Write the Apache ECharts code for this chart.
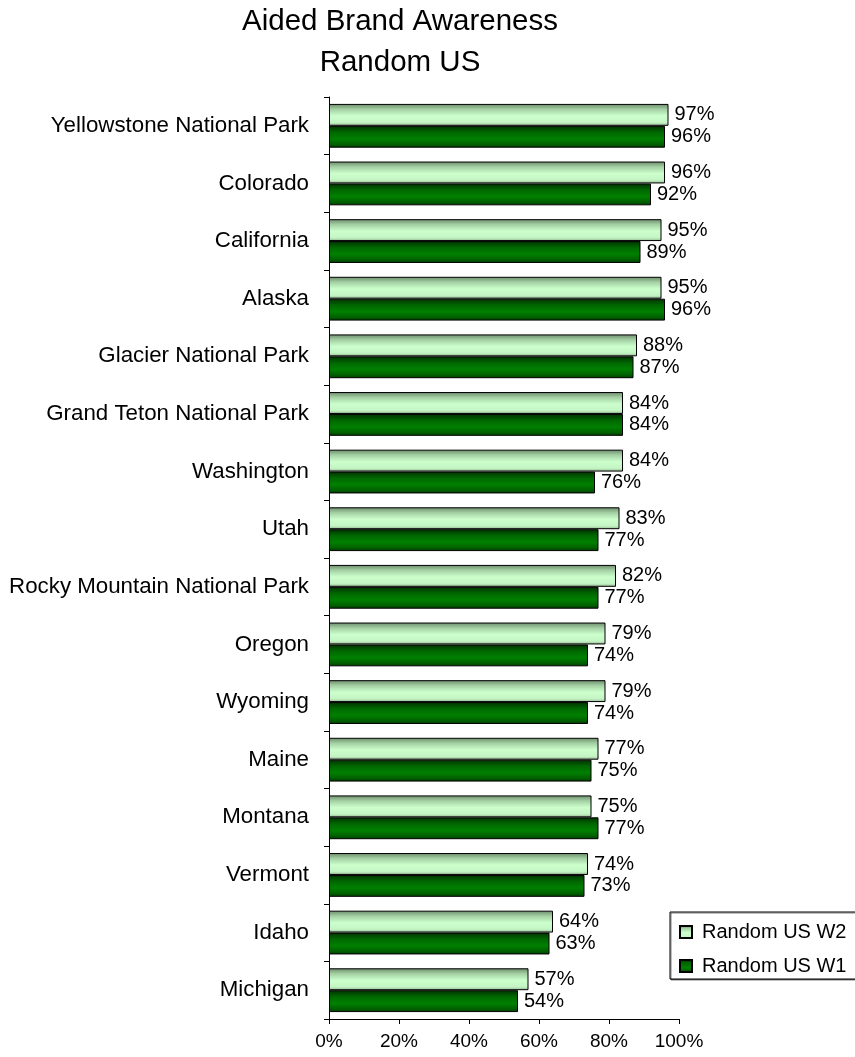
<!DOCTYPE html>
<html><head><meta charset="utf-8">
<script src="https://cdn.jsdelivr.net/npm/echarts@6/dist/echarts.min.js"></script>
<style>html,body{margin:0;padding:0;background:#fff}#c{width:855px;height:1057px}</style>
</head><body><div id="c"></div>
<script>
const titleLines = ['Aided Brand Awareness', 'Random US'];
const categories = ['Yellowstone National Park','Colorado','California','Alaska','Glacier National Park','Grand Teton National Park','Washington','Utah','Rocky Mountain National Park','Oregon','Wyoming','Maine','Montana','Vermont','Idaho','Michigan'];
const seriesNames = ['Random US W2','Random US W1'];
const w2 = [97,96,95,95,88,84,84,83,82,79,79,77,75,74,64,57];
const w1 = [96,92,89,96,87,84,76,77,77,74,74,75,77,73,63,54];
const xTicks = [0,20,40,60,80,100];

const FONT = '"Liberation Sans", Arial, sans-serif';
const lightGrad = new echarts.graphic.LinearGradient(0,0,0,1,[
  {offset:0,color:'#6a8a6a'},{offset:0.25,color:'#a4d0a4'},{offset:0.55,color:'#ccffcc'},{offset:0.85,color:'#c4f4c4'},{offset:1,color:'#94b494'}]);
const darkGrad = new echarts.graphic.LinearGradient(0,0,0,1,[
  {offset:0,color:'#003000'},{offset:0.3,color:'#006800'},{offset:0.6,color:'#008000'},{offset:0.85,color:'#006000'},{offset:1,color:'#003a00'}]);

const chart = echarts.init(document.getElementById('c'), null, {renderer:'canvas'});
chart.setOption({
  animation:false,
  backgroundColor:'#fff',
  title:{text:titleLines.join('\n'), left:395, textAlign:'center', top:-4,
    textStyle:{fontFamily:FONT,fontSize:29.5,fontWeight:'normal',color:'#000',lineHeight:41}},
  legend:{orient:'vertical', left:670, top:912, data:seriesNames, icon:'rect',
    padding:[10,20,3,9], itemGap:14, itemWidth:12, itemHeight:12,
    borderColor:'#000', borderWidth:1, backgroundColor:'#fff',
    shadowColor:'rgba(0,0,0,0.5)', shadowOffsetX:1, shadowOffsetY:1,
    textStyle:{fontFamily:FONT,fontSize:20,color:'#000',padding:[0,0,0,5]}},
  grid:{left:329, right:176, top:97, bottom:38, containLabel:false},
  xAxis:{type:'value', min:0, max:100, interval:20,
    axisLine:{show:true,lineStyle:{color:'#000',width:1}},
    axisTick:{show:true,length:5,lineStyle:{color:'#000'}},
    splitLine:{show:false},
    axisLabel:{fontFamily:FONT,fontSize:19,color:'#000',margin:13,
      formatter:v=>xTicks.includes(v)?v+'%':''}},
  yAxis:{type:'category', data:categories, inverse:true,
    axisLine:{show:true,lineStyle:{color:'#000',width:1}},
    axisTick:{show:true,length:5,lineStyle:{color:'#000'}},
    axisLabel:{fontFamily:FONT,fontSize:22.3,color:'#000',margin:20}},
  series:[
    {name:seriesNames[0], type:'bar', data:w2, barGap:'0%', barCategoryGap:'24%',
     itemStyle:{color:lightGrad,borderColor:'#000',borderWidth:1},
     label:{show:true,position:'right',distance:6,formatter:'{c}%',fontFamily:FONT,fontSize:20,color:'#000'}},
    {name:seriesNames[1], type:'bar', data:w1, barGap:'0%', barCategoryGap:'24%',
     itemStyle:{color:darkGrad,borderColor:'#000',borderWidth:1},
     label:{show:true,position:'right',distance:6,formatter:'{c}%',fontFamily:FONT,fontSize:20,color:'#000'}}
  ]
});
</script></body></html>
